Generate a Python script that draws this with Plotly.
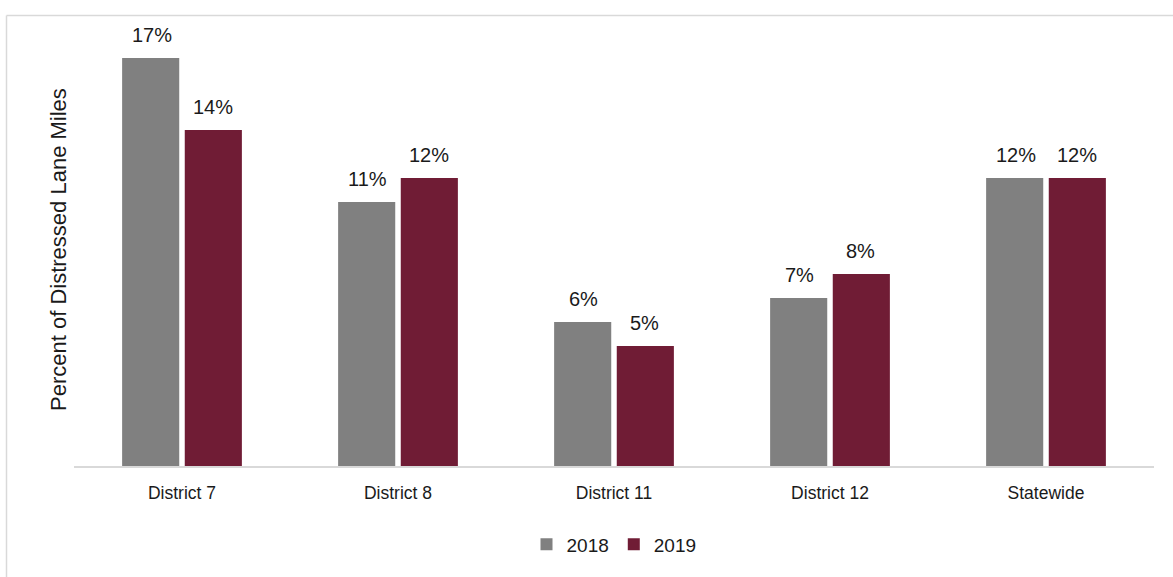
import plotly.graph_objects as go

categories = ["District 7", "District 8", "District 11", "District 12", "Statewide"]
values_2018 = [17, 11, 6, 7, 12]
values_2019 = [14, 12, 5, 8, 12]
y_title = "Percent of Distressed Lane Miles"

font_family = "Liberation Sans, Arial, sans-serif"

fig = go.Figure()
fig.add_trace(go.Bar(x=categories, y=values_2018, name="2018",
                     marker=dict(color="#808080", line=dict(width=0))))
fig.add_trace(go.Bar(x=categories, y=values_2019, name="2019",
                     marker=dict(color="#701c35", line=dict(width=0))))

L, R, T, B = 74, 19, 10, 111
W, H = 1173, 577
pw, ph = W - L - R, H - T - B

# value labels above each bar, offset to the bar's slot in the group
annotations = []
for vals, shift in ((values_2018, -30.5), (values_2019, 30.5)):
    for cat, v in zip(categories, vals):
        annotations.append(dict(
            x=cat, y=v, xref="x", yref="y", text=f"{v}%", showarrow=False,
            xshift=shift, yshift=10, yanchor="bottom",
            font=dict(size=20, family=font_family, color="#1a1a1a"),
        ))

# vertical axis title
annotations.append(dict(
    x=(58 - L) / pw, y=(H - B - 250) / ph, xref="paper", yref="paper",
    text=y_title, textangle=-90, showarrow=False,
    xanchor="center", yanchor="middle",
    font=dict(size=22, family=font_family, color="#1a1a1a"),
))

fig.update_layout(
    width=W, height=H,
    margin=dict(l=L, r=R, t=T, b=B),
    paper_bgcolor="white", plot_bgcolor="white",
    barmode="group", bargap=0.42, bargroupgap=0.088,
    font=dict(family=font_family, color="#1a1a1a"),
    showlegend=True,
    legend=dict(orientation="h", x=0.5, xanchor="center", y=-0.13, yanchor="top",
                font=dict(size=19), itemwidth=30, traceorder="normal"),
    xaxis=dict(showgrid=False, showline=True, linecolor="#d9d9d9", linewidth=1.5,
               ticks="", tickfont=dict(size=17.5), ticklabelstandoff=10),
    yaxis=dict(range=[0, 19], showgrid=False, showticklabels=False, zeroline=False),
    annotations=annotations,
    shapes=[
        dict(type="line", xref="paper", yref="paper",
             x0=(6.5 - L) / pw, x1=(W - L) / pw,
             y0=(H - T - 5.5 - B) / ph, y1=(H - T - 5.5 - B) / ph,
             line=dict(color="#d9d9d9", width=1.5)),
        dict(type="line", xref="paper", yref="paper",
             x0=(6.5 - L) / pw, x1=(6.5 - L) / pw,
             y0=(H - T - 5.5 - B) / ph, y1=-B / ph,
             line=dict(color="#d9d9d9", width=1.5)),
    ],
)

fig.write_html("out.html")
